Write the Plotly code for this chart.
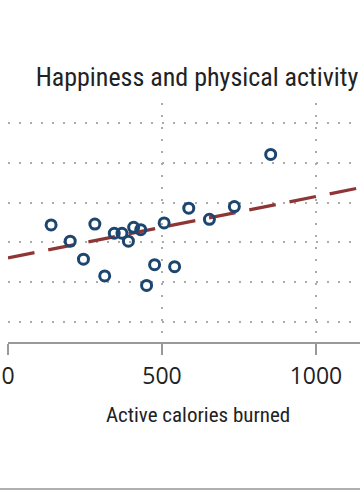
import plotly.graph_objects as go

calories = [140, 202, 245, 282, 314, 345, 370, 391, 408, 431, 450, 476, 507, 541, 587, 654, 735, 853]
happiness = [4.44, 4.03, 3.58, 4.46, 3.16, 4.23, 4.23, 4.03, 4.38, 4.32, 2.92, 3.44, 4.49, 3.39, 4.86, 4.58, 4.90, 6.21]

trend_x = [0, 1200]
trend_y = [3.61, 5.46]

x_ticks = [0, 500, 1000]
x_tick_labels = ["0", "500", "1000"]

title_text = "Happiness and physical activity"
x_title = "Active calories burned"

cond = "Roboto Condensed, Liberation Sans Narrow, DejaVu Sans Condensed, sans-serif"

W, H = 360, 490
L = 8
TOP, BOT = 103, 342
PH = BOT - TOP
PW = W - L

fig = go.Figure()
fig.add_trace(go.Scatter(
    x=trend_x, y=trend_y, mode="lines",
    line=dict(color="#8e3636", width=3.2, dash="27px,14px"),
    hoverinfo="skip", showlegend=False,
))
fig.add_trace(go.Scatter(
    x=calories, y=happiness, mode="markers",
    marker=dict(symbol="circle-open", size=10, color="#1c4670", line=dict(width=3, color="#1c4670")),
    showlegend=False,
))

fig.update_layout(
    width=W, height=H,
    margin=dict(l=L, r=0, t=TOP, b=H - BOT),
    paper_bgcolor="white", plot_bgcolor="white",
    title=dict(text=title_text, x=197/W, xref="container", xanchor="center",
               y=1 - 77/H, yref="container", yanchor="middle",
               font=dict(family=cond, size=26, color="#222")),
    xaxis=dict(
        range=[0, 1143], tickvals=x_ticks, ticktext=x_tick_labels,
        showgrid=True, gridcolor="#ababab", gridwidth=1.5, griddash="2px,10px",
        zeroline=False, showline=True, linecolor="#999", linewidth=2,
        ticks="outside", ticklen=11, tickwidth=2, tickcolor="#999",
        ticklabelstandoff=1,
        tickfont=dict(family="Open Sans, sans-serif", size=23, color="#222"),
    ),
    yaxis=dict(
        range=[1.5, 7.5], dtick=1, tick0=0,
        showgrid=True, gridcolor="#ababab", gridwidth=1.5, griddash="2px,9px",
        zeroline=False, showline=False, showticklabels=False, ticks="",
    ),
    annotations=[dict(text=x_title, xref="paper", yref="paper",
                      x=(198 - L) / PW, y=-(415 - BOT) / PH,
                      xanchor="center", yanchor="middle", showarrow=False,
                      font=dict(family=cond, size=21, color="#222"))],
    shapes=[dict(type="line", xref="paper", yref="paper", x0=-0.05, x1=1.05,
                 y0=-(489 - BOT) / PH, y1=-(489 - BOT) / PH,
                 line=dict(color="#b0b0b0", width=2))],
)

fig.write_html("out.html", config={"displayModeBar": False},
               post_script="document.body.style.margin='0';document.body.style.overflow='hidden';")
